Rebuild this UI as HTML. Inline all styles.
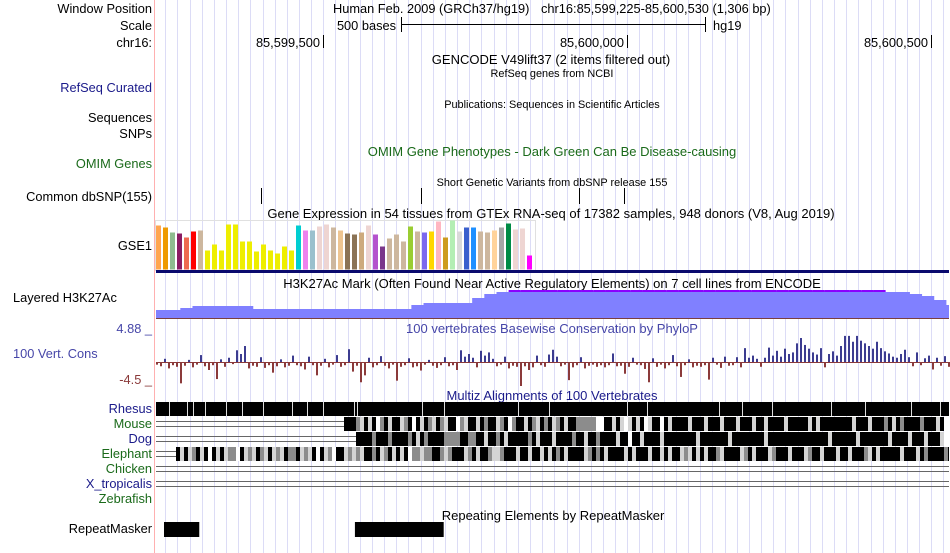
<!DOCTYPE html>
<html><head><meta charset="utf-8"><style>
html,body{margin:0;padding:0;background:#fff;width:950px;height:553px;overflow:hidden}
svg{display:block;font-family:"Liberation Sans",sans-serif}
</style></head><body>
<svg id="b" width="950" height="553" viewBox="0 0 950 553" xmlns="http://www.w3.org/2000/svg">
<g id="grid"></g>
<line x1="154.5" y1="0" x2="154.5" y2="553" stroke="#ffb0b0"/>
<g font-size="12.8" fill="#000" text-anchor="end">
<text x="152" y="13">Window Position</text>
<text x="152" y="30">Scale</text>
<text x="152" y="47">chr16:</text>
<text x="152" y="92" fill="#1a1a8a">RefSeq Curated</text>
<text x="152" y="122">Sequences</text>
<text x="152" y="138">SNPs</text>
<text x="152" y="168" fill="#1a6a1a">OMIM Genes</text>
<text x="152" y="201">Common dbSNP(155)</text>
<text x="152" y="250">GSE1</text>
<text x="13" y="302" text-anchor="start">Layered H3K27Ac</text>
<text x="152" y="333" fill="#4646a8">4.88 _</text>
<text x="13" y="358" text-anchor="start" fill="#4646a8">100 Vert. Cons</text>
<text x="152" y="384" fill="#8b3a3a">-4.5 _</text>
<text x="152" y="413" fill="#1a1a8a">Rhesus</text>
<text x="152" y="428" fill="#1a6a1a">Mouse</text>
<text x="152" y="443" fill="#1a1a8a">Dog</text>
<text x="152" y="458" fill="#1a6a1a">Elephant</text>
<text x="152" y="473" fill="#1a6a1a">Chicken</text>
<text x="152" y="488" fill="#1a1a8a">X_tropicalis</text>
<text x="152" y="503" fill="#1a6a1a">Zebrafish</text>
<text x="152" y="533">RepeatMasker</text>
</g>
<g font-size="12.8" fill="#000">
<text x="333" y="13">Human Feb. 2009 (GRCh37/hg19)</text>
<text x="541" y="13">chr16:85,599,225-85,600,530 (1,306 bp)</text>
<text x="396" y="30" text-anchor="end">500 bases</text>
<line x1="401" y1="24.5" x2="705" y2="24.5" stroke="#000"/>
<line x1="401.5" y1="17" x2="401.5" y2="32" stroke="#000"/>
<line x1="705.5" y1="17" x2="705.5" y2="32" stroke="#000"/>
<text x="713" y="30">hg19</text>
<text x="320" y="47" text-anchor="end">85,599,500</text>
<line x1="323.5" y1="35" x2="323.5" y2="48" stroke="#000"/>
<text x="624" y="47" text-anchor="end">85,600,000</text>
<line x1="627.5" y1="35" x2="627.5" y2="48" stroke="#000"/>
<text x="928" y="47" text-anchor="end">85,600,500</text>
<line x1="931.5" y1="35" x2="931.5" y2="48" stroke="#000"/>
<g font-size="13" text-anchor="middle">
<text x="551" y="64">GENCODE V49lift37 (2 items filtered out)</text>
<text x="552" y="156" fill="#1a6a1a">OMIM Gene Phenotypes - Dark Green Can Be Disease-causing</text>
<text x="551" y="218">Gene Expression in 54 tissues from GTEx RNA-seq of 17382 samples, 948 donors (V8, Aug 2019)</text>
<text x="552" y="288">H3K27Ac Mark (Often Found Near Active Regulatory Elements) on 7 cell lines from ENCODE</text>
<text x="552" y="333" fill="#4646a8">100 vertebrates Basewise Conservation by PhyloP</text>
<text x="552" y="400" fill="#1a1a8a">Multiz Alignments of 100 Vertebrates</text>
<text x="553" y="520">Repeating Elements by RepeatMasker</text>
</g>
<g font-size="10.9" text-anchor="middle">
<text x="552" y="77">RefSeq genes from NCBI</text>
<text x="552" y="108">Publications: Sequences in Scientific Articles</text>
<text x="552" y="186">Short Genetic Variants from dbSNP release 155</text>
</g>
</g>
<g id="snps"></g>
<g id="gtex"></g>
<g id="h3k"></g>
<g id="phylo"></g>
<g id="multiz"></g>
<g id="rmsk"></g>
</svg>
<script>
// ---- data ----
const snpPositions = [85599398, 85599661, 85599921, 85599995];
const gtexValues = [44,42,37,36,32,38,39,19,25,19,45,45,28,28,18,25,19,16,23,19,44,39,39,43,45,42,39,36,35,37,44,35,23,31,35,28,43,38,37,38,48,32,49,38,42,42,38,37,39,42,46,40,41,14];
const gtexColors = ["#FFA54F","#EE9A00","#8FBC8F","#8B1C62","#EE6A50","#FF0000","#CDB79E","#EEEE00","#EEEE00","#EEEE00","#EEEE00","#EEEE00","#EEEE00","#EEEE00","#EEEE00","#EEEE00","#EEEE00","#EEEE00","#EEEE00","#EEEE00","#00CED1","#EE82EE","#9AC0CD","#EED5D2","#EED5D2","#CDB79E","#EEC591","#8B7355","#8B7355","#CDAA7D","#EED5D2","#B452CD","#7A378B","#CDB79E","#CDB79E","#CDB79E","#9ACD32","#CDB79E","#7B68EE","#FFD700","#FFB6C1","#CD9B1D","#B4EEB4","#D9D9D9","#3A5FCD","#1E90FF","#CDB79E","#CDB79E","#FFD39B","#A6A6A6","#008B45","#EED5D2","#EED5D2","#FF00FF"];
const h3kSignal = [8,8,10,12,12,12,12,12,9,9,9,9,9,9,9,9,9,9,9,9,9,13,15,15,15,15,20,24,26,27,27,27,27,27,27,27,27,27,27,27,27,27,27,27,27,27,27,27,27,27,27,27,27,27,27,27,27,27,27,27,26,26,24,22,18,13];
const phyloValues = [-0.5,-0.8,0.6,-1.2,-0.6,-0.9,-4.0,-0.7,0.4,-1.0,-0.5,1.3,-0.8,-1.5,-0.6,-3.2,0.5,-0.9,0.8,-0.4,2.2,1.5,3.0,-1.2,-0.7,-0.9,0.9,-1.1,-0.6,-2.0,-0.8,0.5,-1.0,-0.7,1.2,-0.6,
-0.8,-1.4,1.0,-0.6,-2.5,-0.7,0.6,-1.0,-0.5,1.3,-0.9,-0.6,2.4,-1.8,-0.7,-3.8,-2.5,0.8,-1.0,-0.6,1.1,-0.7,-1.2,-0.5,-3.5,-0.9,-0.6,0.7,-1.0,-0.8,-1.6,-0.5,0.4,-0.7,-1.1,-0.6,0.9,-0.8,
-0.6,-1.5,2.2,1.0,1.5,0.8,-1.0,2.1,1.2,1.8,0.6,-0.8,-0.5,1.0,-1.2,-0.7,-0.9,-4.5,-0.8,-1.5,-1.0,1.2,-0.6,-0.9,1.4,2.3,1.0,-0.8,-0.5,-3.4,-1.0,-0.6,0.9,-1.2,-0.7,-0.5,-0.9,-0.6,
-1.0,-0.6,1.6,-0.8,-0.7,-2.2,-0.9,0.8,-0.5,-0.6,-1.3,-3.8,0.7,-0.9,-0.5,-1.2,-0.6,1.3,-0.8,-2.8,-0.6,0.5,-1.0,-0.7,-0.9,-0.6,-3.3,0.8,-0.5,-1.1,1.0,-0.7,-0.6,0.9,-1.0,2.6,0.8,1.2,
0.6,-0.9,0.8,2.7,1.2,2.1,1.0,2.5,1.5,1.8,3.5,4.5,3.2,2.5,1.8,1.4,2.6,-1.0,1.5,2.0,1.2,3.0,4.9,4.9,3.8,4.9,4.0,3.5,3.0,2.5,3.8,2.6,2.0,1.6,1.0,0.8,1.5,2.3,0.9,-0.8,1.8,-0.6,0.7,1.2,-1.4,0.8,-0.7,1.1,-0.9,-0.5];
const rhesusGaps = [85599247,85599276,85599286,85599306,85599340,85599366,85599401,85599448,85599473,85599499,85599550,85599555,85599662,85599698,85599820,85599872,85600000,85600032,85600150,85600188,85600238,85600335,85600391,85600466,85600514];
const mouseAlign = "-----------------------------------------------333" + "2131302313"+"3123031321"+"3213302133"+"1323312302"+"3313213231"+"2313322222"+"0033131013"+"1301330313"+"3331333133"+"3133313331"+"3313333133"+"3331313333"+"3333133313"+"3323132333"+"3233313";
const dogAlign = "--------------------------------------------------" + "3333233323"+"3332313233"+"3322223322"+"3313323133"+"3332313331"+"3333233133"+"2333313303"+"3133331333"+"3333313333"+"3331333333"+"3313333333"+"3333333313"+"3333313333"+"3331333313"+"3313331";
const elephantAlign = "-----" + "3131231303"+"1312203121"+"3213121322"+"3121303120"+"3312121332"+"3123131302"+"2122332123"+"3312313321"+"1233313313"+"3131323133"+"3312323133"+"3313133313"+"3131331213"+"1313321333"+"3123133312"+"3331333123"+"3133313313"+"3321313333"+"3133313233"+"33231";
const chickenAlign = "-".repeat(200);
const xtropAlign = "-".repeat(200);
const repeatStarts = [85599238, 85599552];
const repeatEnds = [85599296, 85599698];

// ---- scales ----
const NS = "http://www.w3.org/2000/svg";
const PX = 304/500, X0 = 323.3, G0 = 85599500, LEFT = 156, RIGHT = 949;
const xg = bp => X0 + (bp - G0) * PX;
function mk(tag, attrs, parent){const e=document.createElementNS(NS,tag);for(const k in attrs)e.setAttribute(k,attrs[k]);parent.appendChild(e);return e;}

// grid
const grid = document.getElementById('grid');
for (let bp = G0 - 20*14; xg(bp) <= RIGHT; bp += 20) {
  const x = Math.round(xg(bp)) + 0.5;
  if (x < LEFT) continue;
  const l = mk('line', {x1:x, y1:0, x2:x, y2:553, stroke:'#dcdcf6'}, grid);
  
  
}

// snps
const snps = document.getElementById('snps');
snpPositions.forEach(p => {
  const x = Math.round(xg(p)) + 0.5;
  const l = mk('line', {x1:x, y1:188, x2:x, y2:204, stroke:'#000'}, snps);
  
  
});

// gtex
const gtex = document.getElementById('gtex');
mk('rect', {x:155.5, y:220.5, width:380, height:50, fill:'none', stroke:'#e0e0e0'}, gtex);
const GBASE = 269.5, GSCALE = 1.0;
gtexValues.forEach((v, i) => {
  const h = v * GSCALE;
  const r = mk('rect', {x: 156 + i*7, y: GBASE - h, width: 5, height: h, fill: gtexColors[i]}, gtex);
  
  
});
mk('rect', {x:156, y:270, width:793, height:3, fill:'#0a0a6e'}, gtex);

// h3k27ac
const h3k = document.getElementById('h3k');
const HBASE = 318, BIN = 20*PX;
let pts = [];
h3kSignal.forEach((v, i) => {
  const x1 = LEFT + i*BIN, x2 = Math.min(RIGHT, LEFT + (i+1)*BIN);
  pts.push([x1, HBASE - v], [x2, HBASE - v]);
});
const poly = mk('polygon', {points: `${LEFT},${HBASE} ` + pts.map(p=>p.join(',')).join(' ') + ` ${RIGHT},${HBASE}`, fill:'#8080ff'}, h3k);


h3kSignal.forEach((v, i) => {
  if (v >= 27) {
    const r = mk('rect', {x: LEFT + i*BIN, y: HBASE - v - 1, width: BIN, height: 2, fill:'#8a00ff'}, h3k);
    
    
  }
});
mk('line', {x1:LEFT, y1:HBASE+0.5, x2:RIGHT, y2:HBASE+0.5, stroke:'#7a4040'}, h3k);

// phylop
const phylo = document.getElementById('phylo');
const PZERO = 362, PUP = 26/4.88, PDN = 24/4.5;
phyloValues.forEach((v, i) => {
  const x = LEFT + i*4;
  if (x > RIGHT) return;
  const h = v >= 0 ? v*PUP : -v*PDN;
  const r = mk('rect', {x:x, y: v >= 0 ? PZERO - h : PZERO, width:2, height: Math.max(1,h), fill: v >= 0 ? '#3c3c90' : '#8b3a3a'}, phylo);
  
  
});
mk('line', {x1:LEFT, y1:PZERO+0.5, x2:RIGHT, y2:PZERO+0.5, stroke:'#8b3a3a'}, phylo);

// multiz
const mz = document.getElementById('multiz');
const rh = mk('rect', {x:LEFT, y:402, width:RIGHT-LEFT, height:14, fill:'#000'}, mz);


rhesusGaps.forEach(p => {
  mk('rect', {x: Math.round(xg(p)), y:402, width:1, height:14, fill:'#ddd'}, mz);
});
const shades = {'0':'#ffffff','1':'#d4d4d4','2':'#8c8c8c','3':'#000000'};
function drawRow(str, y, name){
  const g = mk('g', {}, mz);
  
  
  for (let i = 0; i < str.length; i++) {
    const x = LEFT + i*4;
    if (x >= RIGHT) break;
    const w = Math.min(4, RIGHT - x);
    const c = str[i];
    if (c === '-') {
      mk('rect', {x:x, y:y+4, width:w, height:1, fill:'#666'}, g);
      mk('rect', {x:x, y:y+9, width:w, height:1, fill:'#666'}, g);
    } else {
      mk('rect', {x:x, y:y, width:w, height:14, fill:shades[c]}, g);
    }
  }
}
drawRow(mouseAlign, 417, 'mouse-alignment');
drawRow(dogAlign, 432, 'dog-alignment');
drawRow(elephantAlign, 447, 'elephant-alignment');
drawRow(chickenAlign, 462, 'chicken-alignment');
drawRow(xtropAlign, 477, 'x-tropicalis-alignment');

// repeatmasker
const rm = document.getElementById('rmsk');
repeatStarts.forEach((s, i) => {
  const r = mk('rect', {x: xg(s), y:522, width: xg(repeatEnds[i]) - xg(s), height:15, fill:'#000'}, rm);
  
  
});
</script>
</body></html>
